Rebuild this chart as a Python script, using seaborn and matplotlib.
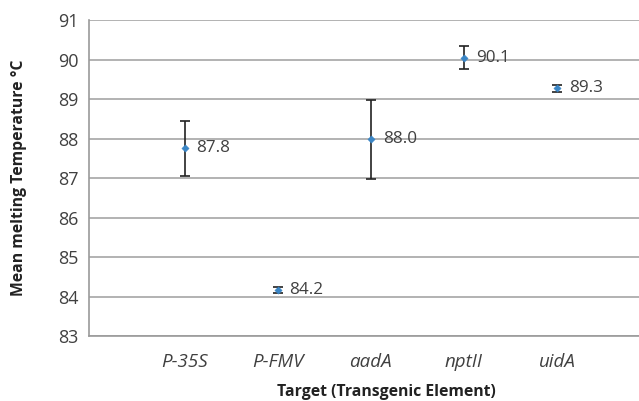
import numpy as np
import pandas as pd
import seaborn as sns
import matplotlib
matplotlib.use("Agg")
import matplotlib.pyplot as plt

targets = ["P-35S", "P-FMV", "aadA", "nptII", "uidA"]
mean_tm = [87.75, 84.17, 87.98, 90.05, 89.27]
err_tm = [0.70, 0.08, 1.00, 0.30, 0.08]
labels = ["87.8", "84.2", "88.0", "90.1", "89.3"]

df = pd.DataFrame({"target": targets, "tm": mean_tm, "err": err_tm, "label": labels})
df["pos"] = np.arange(len(df))

sns.set_style("white")
plt.rcParams["font.family"] = ["Open Sans", "DejaVu Sans"]

fig = plt.figure(figsize=(6.39, 4.01), dpi=100)
ax = fig.add_axes([0.139, 0.162, 0.861, 0.788])

ax.errorbar(df["pos"], df["tm"], yerr=df["err"], fmt="none", ecolor="#222222",
            elinewidth=1.2, capsize=3.6, capthick=1.2, zorder=3)
sns.scatterplot(data=df, x="pos", y="tm", marker="D", s=14, color="#3a86c6",
                edgecolor="#3a86c6", ax=ax, zorder=4, legend=False)

for _, r in df.iterrows():
    ax.annotate(r["label"], (r["pos"], r["tm"]), xytext=(8.5, 0), textcoords="offset points",
                va="center", ha="left", fontsize=12.3, color="#404040")

ax.set_ylim(83, 91)
ax.set_yticks(range(83, 92))
ax.set_xlim(-1.03, 4.88)
ax.set_xticks(df["pos"])
ax.set_xticklabels(targets, fontstyle="italic", fontsize=13.5, color="#404040")
ax.tick_params(axis="y", labelsize=13, labelcolor="#404040", length=4, color="#9a9a9a", width=1)
ax.tick_params(axis="x", length=0, pad=12)

ax.yaxis.grid(True, color="#a6a6a6", linewidth=1.2)
ax.set_axisbelow(True)
for s in ["top", "right"]:
    ax.spines[s].set_visible(False)
for s in ["left", "bottom"]:
    ax.spines[s].set_color("#9a9a9a")
    ax.spines[s].set_linewidth(1.2)

ax.set_xlabel("Target (Transgenic Element)", fontsize=11.3, fontweight="bold", color="#222222")
ax.set_ylabel("Mean melting Temperature \u00b0C", fontsize=11.3, fontweight="bold", color="#222222")
ax.xaxis.set_label_coords(0.54, -0.153)
ax.yaxis.set_label_coords(-0.113, 0.5)

fig.savefig("out.png", dpi=100)
